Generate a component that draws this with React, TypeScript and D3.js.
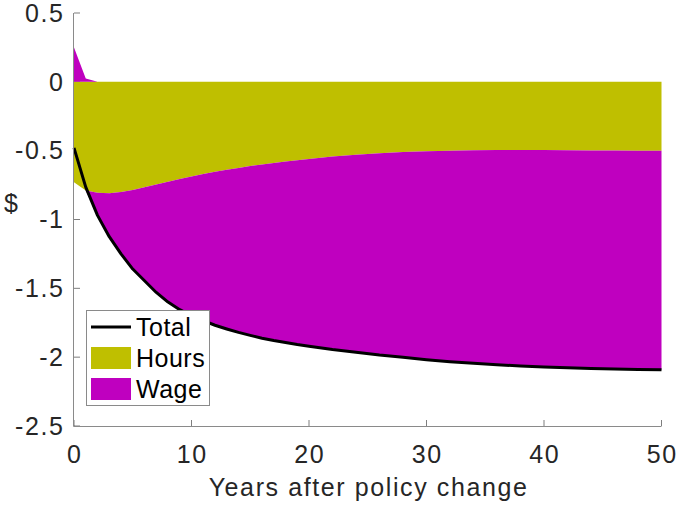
import React from "react";
import * as d3 from "d3";

// Decomposition of the earnings change over time
const years = [0, 1, 2, 3, 4, 5, 6, 7, 8, 9, 10, 11, 12, 13, 14, 15, 16, 17, 18, 19, 20,
  22, 24, 26, 28, 30, 32, 34, 36, 38, 40, 42, 44, 46, 48, 50];
const hours = [-0.73, -0.79, -0.805, -0.81, -0.8, -0.785, -0.765, -0.745, -0.725, -0.705, -0.687,
  -0.67, -0.653, -0.639, -0.625, -0.612, -0.6, -0.589, -0.578, -0.569, -0.56,
  -0.543, -0.53, -0.519, -0.51, -0.504, -0.5, -0.497, -0.496, -0.496, -0.496,
  -0.497, -0.498, -0.499, -0.5, -0.501];
const wage = [0.25, 0.025, -0.165, -0.315, -0.45, -0.575, -0.68, -0.785, -0.875, -0.95, -1.013,
  -1.065, -1.115, -1.156, -1.195, -1.23, -1.262, -1.29, -1.316, -1.339, -1.36,
  -1.402, -1.435, -1.466, -1.49, -1.514, -1.533, -1.548, -1.559, -1.568, -1.575,
  -1.58, -1.584, -1.587, -1.589, -1.59];

const xTicks = [0, 10, 20, 30, 40, 50];
const yTicks = [-2.5, -2, -1.5, -1, -0.5, 0, 0.5];
const yTickLabels = ["-2.5", "-2", "-1.5", "-1", "-0.5", "0", "0.5"];
const legendItems = ["Total", "Hours", "Wage"];

const W = 678;
const H = 505;
const FONT = "'Liberation Sans', Arial, Helvetica, sans-serif";
const HOURS_COLOR = "#bfbf00";
const WAGE_COLOR = "#bf00bf";
const AXIS_COLOR = "#262626";
const LS = 1.6; // letter spacing of axis text

export default function App() {
  const x = d3.scaleLinear().domain([0, 50]).range([74, 661.5]);
  const y = d3.scaleLinear().domain([-2.5, 0.5]).range([426, 13]);

  const rows = years.map((t, i) => ({ t, h: hours[i], w: wage[i] }));

  const hoursArea = d3
    .area<(typeof rows)[number]>()
    .x((d) => x(d.t))
    .y0(() => y(0))
    .y1((d) => y(d.h));

  const wagePosArea = d3
    .area<(typeof rows)[number]>()
    .x((d) => x(d.t))
    .y0(() => y(0))
    .y1((d) => y(Math.max(d.w, 0)));

  const wageNegArea = d3
    .area<(typeof rows)[number]>()
    .x((d) => x(d.t))
    .y0((d) => y(d.h))
    .y1((d) => y(d.h + Math.min(d.w, 0)));

  const totalLine = d3
    .line<(typeof rows)[number]>()
    .x((d) => x(d.t))
    .y((d) => y(d.h + d.w));

  const [x0, x1] = x.range();
  const [yb, yt] = y.range();

  const legendX = 86;
  const legendY = 310;
  const rowH = 31;

  return (
    <svg
      width={W}
      height={H}
      style={{ position: "absolute", left: 0, top: 0, display: "block", background: "#fff" }}
      fontFamily={FONT}
    >
      {/* ticks sit beneath the filled areas */}
      <g stroke={AXIS_COLOR} strokeWidth={0.6}>
        {yTicks.map((v) => (
          <line key={"yt" + v} x1={x0} x2={x0 + 6} y1={y(v)} y2={y(v)} />
        ))}
        {xTicks.map((v) => (
          <line key={"xt" + v} x1={x(v)} x2={x(v)} y1={yb} y2={yb - 6} />
        ))}
      </g>

      <path d={hoursArea(rows) ?? ""} fill={HOURS_COLOR} />
      <path d={wagePosArea(rows) ?? ""} fill={WAGE_COLOR} />
      <path d={wageNegArea(rows) ?? ""} fill={WAGE_COLOR} />
      <path d={totalLine(rows) ?? ""} fill="none" stroke="#000" strokeWidth={3} strokeLinejoin="round" />

      {/* axis lines */}
      <g stroke="#8a8a8a" strokeWidth={1} fill="none">
        <line x1={x0 - 0.5} x2={x0 - 0.5} y1={yt} y2={yb + 0.5} />
        <line x1={x0 - 0.5} x2={x1} y1={yb + 0.5} y2={yb + 0.5} />
      </g>

      {/* tick labels */}
      <g fill={AXIS_COLOR} fontSize={25} letterSpacing={LS}>
        {yTicks.map((v, i) => (
          <text key={"yl" + v} x={63 + LS} y={y(v)} dy="0.35em" textAnchor="end">
            {yTickLabels[i]}
          </text>
        ))}
        {xTicks.map((v) => (
          <text key={"xl" + v} x={x(v) + LS / 2} y={463} textAnchor="middle">
            {v}
          </text>
        ))}
      </g>

      {/* axis titles */}
      <text
        x={(x0 + x1) / 2 + LS / 2}
        y={496}
        textAnchor="middle"
        fontSize={25}
        letterSpacing={LS}
        fill={AXIS_COLOR}
      >
        Years after policy change
      </text>
      <text x={11} y={203} dy="0.35em" textAnchor="middle" fontSize={25} fill={AXIS_COLOR}>
        $
      </text>

      {/* legend */}
      <g>
        <rect
          x={legendX + 0.5}
          y={legendY + 0.5}
          width={123}
          height={95}
          fill="#fff"
          stroke="#8a8a8a"
          strokeWidth={1}
        />
        {legendItems.map((name, i) => {
          const cy = legendY + 17 + i * rowH;
          return (
            <g key={name}>
              {i === 0 ? (
                <line x1={91} x2={131} y1={cy} y2={cy} stroke="#000" strokeWidth={3} />
              ) : (
                <rect
                  x={91}
                  y={cy - 11}
                  width={40}
                  height={22}
                  fill={i === 1 ? HOURS_COLOR : WAGE_COLOR}
                />
              )}
              <text x={136} y={cy} dy="0.35em" fontSize={25} letterSpacing={0.5} fill="#000">
                {name}
              </text>
            </g>
          );
        })}
      </g>
    </svg>
  );
}
